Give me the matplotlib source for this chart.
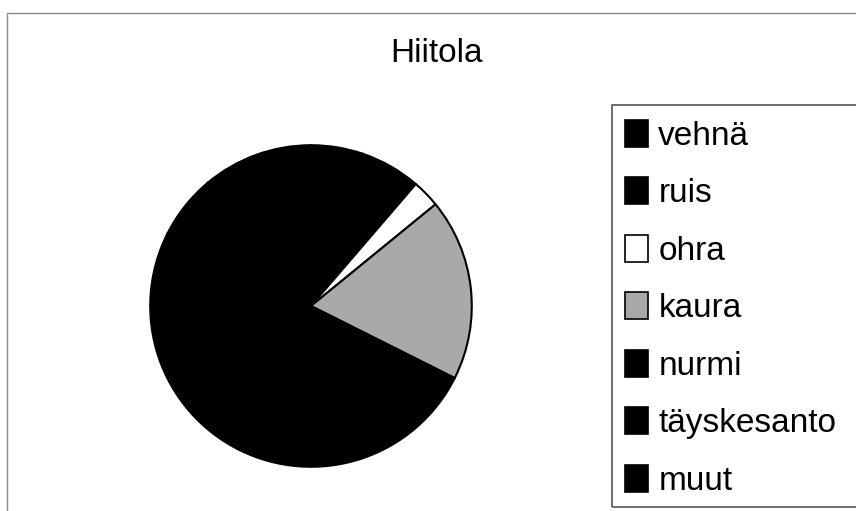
import matplotlib
matplotlib.use('Agg')
import matplotlib.pyplot as plt
from matplotlib.patches import Rectangle, Patch

plt.rcParams['font.family'] = ['Liberation Sans', 'DejaVu Sans']

# Hiitola crop shares (black slices estimated)
labels = ['vehnä', 'ruis', 'ohra', 'kaura', 'nurmi', 'täyskesanto', 'muut']
values = [5.2, 6.1, 2.8, 18.3, 50.0, 6.5, 11.1]
colors = ['black', 'black', 'white', '#a9a9a9', 'black', 'black', 'black']

W, H = 856, 511
fig = plt.figure(figsize=(W / 100, H / 100), dpi=100)

# chart frame (partly off the page like the scan)
fig.add_artist(Rectangle((7 / W, -0.1), 1.0, 1 - 13 / H + 0.1, transform=fig.transFigure,
                         fill=False, edgecolor='#888888', linewidth=1.0))

# pie, centre (311, 306) px, radius 164 px
cx, cy, r = 311, 306, 164
ax = fig.add_axes([(cx - r) / W, (H - cy - r) / H, 2 * r / W, 2 * r / H])
wedges, _ = ax.pie(values, colors=colors, startangle=90, counterclock=False,
                   wedgeprops=dict(edgecolor='black', linewidth=1.5))
ax.set_xlim(-1.02, 1.02)
ax.set_ylim(-1.02, 1.02)
ax.set_aspect('equal')
ax.axis('off')

fig.text(437 / W, 1 - 62 / H, 'Hiitola', ha='center', va='baseline', fontsize=24)

# legend box
fig.add_artist(Rectangle((612 / W, 1 - 507 / H), 0.5, (507 - 105) / H, transform=fig.transFigure,
                         fill=False, edgecolor='#555555', linewidth=1.2))
handles = [Patch(facecolor=c, edgecolor='black', linewidth=1.2) for c in colors]
fig.legend(handles, labels, loc='upper left', bbox_to_anchor=(625 / W, 1 - 120 / H),
           frameon=False, fontsize=24, handlelength=0.7, handleheight=0.85,
           handletextpad=0.3, labelspacing=0.77, borderpad=0, borderaxespad=0)

fig.savefig('out.png', dpi=100)
